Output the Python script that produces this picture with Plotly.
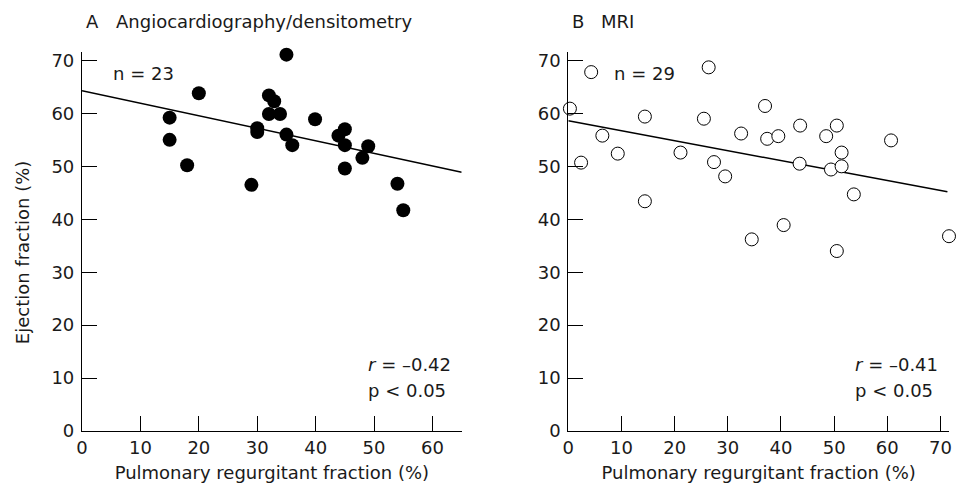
import plotly.graph_objects as go

# Panel A: Angiocardiography/densitometry
a_x = [15, 15, 18, 20, 29, 30, 30, 32, 32.9, 32, 33.9, 35, 35, 36, 39.9, 43.9, 45, 45, 45, 48, 49, 54, 55]
a_y = [59.2, 55.0, 50.2, 63.8, 46.5, 57.2, 56.5, 63.4, 62.3, 59.9, 59.9, 71.1, 56.0, 54.0, 58.9, 55.8, 57.0, 54.0, 49.6, 51.6, 53.8, 46.7, 41.7]
a_fit_x = [0, 65]
a_fit_y = [64.3, 48.9]

# Panel B: MRI
b_x = [0.3, 4.3, 2.4, 6.4, 9.3, 14.4, 14.4, 21.1, 25.5, 26.4, 27.4, 29.5, 32.5, 34.5, 37.0, 37.4, 39.5, 40.5,
       43.6, 43.5, 48.5, 49.4, 50.5, 50.5, 51.4, 51.4, 53.7, 60.7, 71.6]
b_y = [60.9, 67.8, 50.7, 55.8, 52.4, 59.4, 43.4, 52.6, 59.0, 68.7, 50.8, 48.1, 56.2, 36.2, 61.4, 55.2, 55.7, 38.9,
       57.7, 50.5, 55.7, 49.4, 57.7, 34.0, 52.6, 50.0, 44.7, 54.9, 36.8]
b_fit_x = [0, 71.3]
b_fit_y = [58.6, 45.2]

x_ticks_a = [0, 10, 20, 30, 40, 50, 60]
x_ticks_b = [0, 10, 20, 30, 40, 50, 60, 70]
y_ticks = [0, 10, 20, 30, 40, 50, 60, 70]

FONT = "DejaVu Sans"
FS = 18
COL = "#1a1a1a"

W, H = 958, 486
ML, MR, MT, MB = 82, 6, 52, 55
PW, PH = W - ML - MR, H - MT - MB


def px(x):
    return (x - ML) / PW


def py(y):
    return (H - MB - y) / PH


fig = go.Figure()

fig.add_trace(go.Scatter(x=a_fit_x, y=a_fit_y, mode="lines", line=dict(color="black", width=1.5),
                         xaxis="x", yaxis="y", showlegend=False, cliponaxis=False))
fig.add_trace(go.Scatter(x=a_x, y=a_y, mode="markers",
                         marker=dict(size=14, color="black", line=dict(width=0)),
                         xaxis="x", yaxis="y", showlegend=False, cliponaxis=False))
fig.add_trace(go.Scatter(x=b_fit_x, y=b_fit_y, mode="lines", line=dict(color="black", width=1.5),
                         xaxis="x2", yaxis="y2", showlegend=False, cliponaxis=False))
fig.add_trace(go.Scatter(x=b_x, y=b_y, mode="markers",
                         marker=dict(size=13, color="white", line=dict(width=1, color="black")),
                         xaxis="x2", yaxis="y2", showlegend=False, cliponaxis=False))

axis_common = dict(showgrid=False, zeroline=False, showline=True, linecolor="black", linewidth=1.2,
                   ticks="inside", ticklen=15, tickwidth=1.2, tickcolor="black",
                   tickfont=dict(family=FONT, size=FS, color=COL))

xt_font = dict(family=FONT, size=FS, color=COL)
fig.update_layout(
    width=W, height=H,
    margin=dict(l=ML, r=MR, t=MT, b=MB),
    paper_bgcolor="white", plot_bgcolor="white",
    xaxis=dict(domain=[0, px(463)], range=[0, 65], tickvals=x_ticks_a, **axis_common,
               title=dict(text="Pulmonary regurgitant fraction (%)", font=xt_font, standoff=9)),
    yaxis=dict(domain=[0, 1], range=[0, 71.6], tickvals=y_ticks, ticklabelstandoff=3, **axis_common),
    xaxis2=dict(domain=[px(570), 1], range=[0, 71.6], tickvals=x_ticks_b, anchor="y2", **axis_common,
                title=dict(text="Pulmonary regurgitant fraction (%)", font=xt_font, standoff=9)),
    yaxis2=dict(domain=[0, 1], range=[0, 71.6], tickvals=y_ticks, anchor="x2", ticklabelstandoff=3,
                **axis_common),
    font=dict(family=FONT, color=COL),
)

ann_font = dict(family=FONT, size=FS, color=COL)


def ann(text, x, y, xanchor="left", textangle=0):
    return dict(text=text, xref="paper", yref="paper", x=px(x), y=py(y), xanchor=xanchor,
                yanchor="middle", showarrow=False, font=ann_font, textangle=textangle)


anns = [
    ann("A", 84, 22),
    ann("Angiocardiography/densitometry", 114, 22),
    ann("B", 572, 22),
    ann("MRI", 601, 22),
    ann("n = 23", 111, 73),
    ann("n = 29", 614, 73),
    ann("<i>r</i> = –0.42", 367, 364),
    ann("p < 0.05", 367, 390),
    ann("<i>r</i> = –0.41", 856, 364),
    ann("p < 0.05", 856, 390),
    dict(text="Ejection fraction (%)", xref="paper", yref="paper", x=px(22), y=py(252),
         xanchor="center", yanchor="middle", showarrow=False, font=ann_font, textangle=-90),
]
fig.update_layout(annotations=anns)

fig.write_html("out.html")
